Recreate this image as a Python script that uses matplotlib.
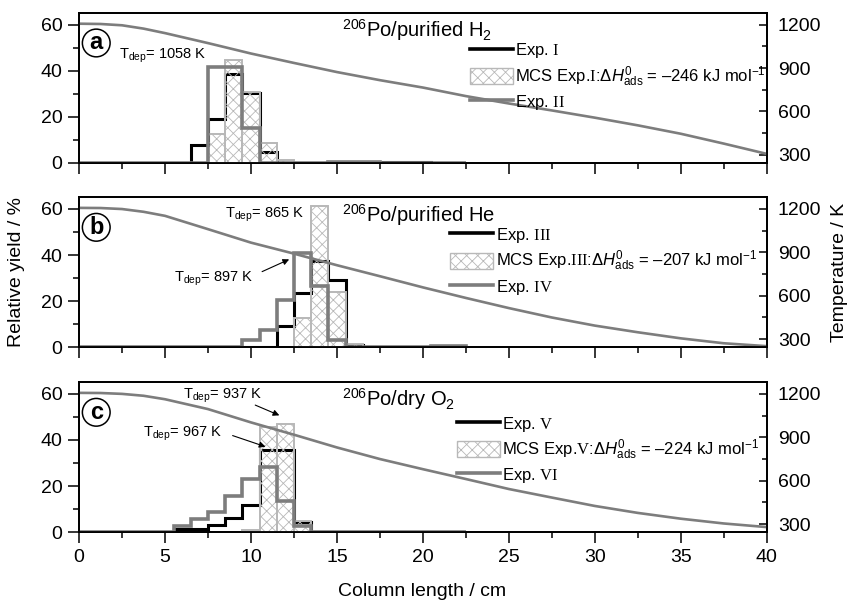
import numpy as np
import matplotlib.pyplot as plt
from matplotlib.lines import Line2D
from matplotlib.patches import Patch
from matplotlib.ticker import MultipleLocator

plt.rcParams['font.family'] = 'Liberation Sans'
plt.rcParams['mathtext.fontset'] = 'custom'
plt.rcParams['mathtext.rm'] = 'Liberation Serif'
plt.rcParams['mathtext.it'] = 'Liberation Sans:italic'
plt.rcParams['mathtext.sf'] = 'Liberation Sans'
plt.rcParams['mathtext.bf'] = 'Liberation Sans:bold'
plt.rcParams['hatch.linewidth'] = 0.6

# temperature profile along the column (K)
col_x = [0, 1.25, 2.5, 3.75, 5, 7.5, 10, 12.5, 15, 17.5, 20, 22.5, 25, 27.5, 30, 32.5, 35, 37.5, 40]
temp_a = [1206, 1204, 1195, 1172, 1141, 1072, 1000, 935, 872, 816, 765, 706, 655, 607, 557, 504, 446, 378, 307]
temp_b = [1207, 1206, 1199, 1180, 1152, 1060, 967, 891, 811, 735, 658, 585, 515, 450, 394, 348, 306, 272, 252]
temp_c = [1207, 1206, 1200, 1187, 1163, 1095, 1003, 918, 830, 750, 680, 612, 543, 484, 426, 378, 338, 305, 280]

# relative yields (%) in 1 cm bins; first value belongs to the bin centred on *_start
exp1_start, exp1 = 7, [8.0, 19.0, 38.5, 30.2, 4.8, 0, 0, 0, 0, 0, 0, 0.3, 0.3, 0.3]
exp2_start, exp2 = 8, [41.8, 41.8, 15.1, 0, 0, 0, 0, 0.3, 0.3, 0.3]
mcs1_x, mcs1 = [8, 9, 10, 11, 12], [12.7, 44.7, 30.9, 8.6, 1.3]

exp3_start, exp3 = 12, [9.3, 23.5, 37.5, 29.2, 0.9]
exp4_start, exp4 = 10, [3.0, 7.7, 20.4, 40.7, 26.6, 3.3, 0, 0, 0, 0, 0, 0.4, 0.4]
mcs3_x, mcs3 = [13, 14, 15, 16], [12.8, 61.2, 24.0, 1.6]

exp5_start, exp5 = 6, [1.5, 1.6, 3.2, 6.1, 11.8, 35.8, 35.6, 4.5]
exp6_start, exp6 = 6, [2.9, 5.7, 9.0, 15.7, 23.0, 28.2, 13.6, 2.9]
mcs5_x, mcs5 = [10, 11, 12, 13], [0.8, 45.5, 46.8, 5.1]

GRAY = '#7d7d7d'
LIGHT = '#b8b8b8'
NB = 23


def steps(ax, start, vals, **kw):
    y = np.r_[np.zeros(start), vals, np.zeros(NB - start - len(vals))]
    edges = np.r_[0, np.arange(0.5, NB)]
    ax.stairs(y, edges, baseline=0, fill=False, **kw)


fig = plt.figure(figsize=(8.5, 6.01), dpi=100)
rects = [[0.093, 0.7288, 0.809, 0.2496],
         [0.093, 0.4221, 0.809, 0.2496],
         [0.093, 0.1143, 0.809, 0.2496]]

panels = [
    dict(temp=temp_a, blk=(exp1_start, exp1), gry=(exp2_start, exp2), mcs=(mcs1_x, mcs1),
         letter='a', title=r'$^{\mathsf{206}}$Po/purified H$_{\mathsf{2}}$',
         labels=[r'Exp. $\mathrm{I}$',
                 r'MCS Exp.$\mathrm{I}$:$\mathsf{\Delta}\mathit{H}^{\mathsf{0}}_{\mathsf{ads}}$ = –246 kJ mol$^{\mathsf{-1}}$',
                 r'Exp. $\mathrm{II}$'],
         leg=(0.568, 0.81)),
    dict(temp=temp_b, blk=(exp3_start, exp3), gry=(exp4_start, exp4), mcs=(mcs3_x, mcs3),
         letter='b', title=r'$^{\mathsf{206}}$Po/purified He',
         labels=[r'Exp. $\mathrm{III}$',
                 r'MCS Exp.$\mathrm{III}$:$\mathsf{\Delta}\mathit{H}^{\mathsf{0}}_{\mathsf{ads}}$ = –207 kJ mol$^{\mathsf{-1}}$',
                 r'Exp. $\mathrm{IV}$'],
         leg=(0.539, 0.81)),
    dict(temp=temp_c, blk=(exp5_start, exp5), gry=(exp6_start, exp6), mcs=(mcs5_x, mcs5),
         letter='c', title=r'$^{\mathsf{206}}$Po/dry O$_{\mathsf{2}}$',
         labels=[r'Exp. $\mathrm{V}$',
                 r'MCS Exp.$\mathrm{V}$:$\mathsf{\Delta}\mathit{H}^{\mathsf{0}}_{\mathsf{ads}}$ = –224 kJ mol$^{\mathsf{-1}}$',
                 r'Exp. $\mathrm{VI}$'],
         leg=(0.549, 0.785)),
]

axes = []
for i, p in enumerate(panels):
    ax = fig.add_axes(rects[i])
    axes.append(ax)
    steps(ax, *p['blk'], color='black', lw=2.2, zorder=2)
    ax.bar(p['mcs'][0], p['mcs'][1], width=1, fill=False, edgecolor=LIGHT,
           hatch='xxx', lw=1.4, zorder=3)
    steps(ax, *p['gry'], color=GRAY, lw=2.6, zorder=4)

    ax.set_xlim(0, 40)
    ax.set_ylim(0, 65)
    ax.set_xticks(range(0, 41, 5))
    ax.xaxis.set_minor_locator(MultipleLocator(2.5))
    ax.set_yticks([0, 20, 40, 60])
    ax.yaxis.set_minor_locator(MultipleLocator(10))
    ax.tick_params(which='major', direction='out', length=8, width=1.1, labelsize=14, pad=4)
    ax.tick_params(which='minor', direction='out', length=4.5, width=1.1)
    ax.tick_params(axis='x', top=False, which='both')
    if i < 2:
        ax.tick_params(axis='x', labelbottom=False)
    for s in ax.spines.values():
        s.set_linewidth(1.3)

    axT = ax.twinx()
    axT.plot(col_x, p['temp'], color=GRAY, lw=1.9)
    axT.set_ylim(244, 1280)
    axT.set_yticks([300, 600, 900, 1200])
    axT.yaxis.set_minor_locator(MultipleLocator(150))
    axT.tick_params(which='major', direction='in', length=6, width=1.1, labelsize=14, pad=8)
    axT.tick_params(which='minor', direction='in', length=3.5, width=1.1)
    for s in axT.spines.values():
        s.set_linewidth(1.3)

    axT.text(1.0, 52, p['letter'], transform=ax.transData, fontsize=17, fontweight='bold',
             ha='center', va='center', zorder=10,
             bbox=dict(boxstyle='circle,pad=0.1', fc='white', ec='black', lw=1.1))
    axT.text(0.382, 0.885, p['title'], transform=ax.transAxes, fontsize=14.5,
             ha='left', va='center')

    handles = [Line2D([], [], color='black', lw=2.6),
               Patch(facecolor='white', edgecolor=LIGHT, hatch='xxx', lw=1),
               Line2D([], [], color=GRAY, lw=2.6)]
    axT.legend(handles, p['labels'], loc='upper left', bbox_to_anchor=p['leg'],
               frameon=False, fontsize=12, borderpad=0, borderaxespad=0,
               handlelength=2.6, handleheight=1.1, handletextpad=0.15, labelspacing=0.25)

# deposition temperature labels
tdep_kw = dict(fontsize=10.5, ha='left', va='center', zorder=10)
arrow_kw = dict(arrowstyle='-|>', color='black', lw=0.8, mutation_scale=9)
axes[0].text(2.3, 46.5, r'T$_{\mathsf{dep}}$= 1058 K', **tdep_kw)
axes[1].text(8.5, 57.5, r'T$_{\mathsf{dep}}$= 865 K', **tdep_kw)
axes[1].text(5.5, 29.5, r'T$_{\mathsf{dep}}$= 897 K', **tdep_kw)
axes[1].annotate('', xy=(12.37, 38.6), xytext=(10.5, 32.3), arrowprops=arrow_kw)
axes[2].text(6.07, 59, r'T$_{\mathsf{dep}}$= 937 K', **tdep_kw)
axes[2].annotate('', xy=(11.8, 50.2), xytext=(10.1, 55.6), arrowprops=arrow_kw)
axes[2].text(3.74, 42.5, r'T$_{\mathsf{dep}}$= 967 K', **tdep_kw)
axes[2].annotate('', xy=(11.0, 36.7), xytext=(8.78, 42.3), arrowprops=arrow_kw)

fig.text(0.02, 0.547, 'Relative yield / %', rotation=90, fontsize=14, ha='center', va='center')
fig.text(0.988, 0.547, 'Temperature / K', rotation=90, fontsize=14, ha='center', va='center')
fig.text(0.497, 0.015, 'Column length / cm', fontsize=14, ha='center', va='center')

fig.savefig('out.png', dpi=100)
